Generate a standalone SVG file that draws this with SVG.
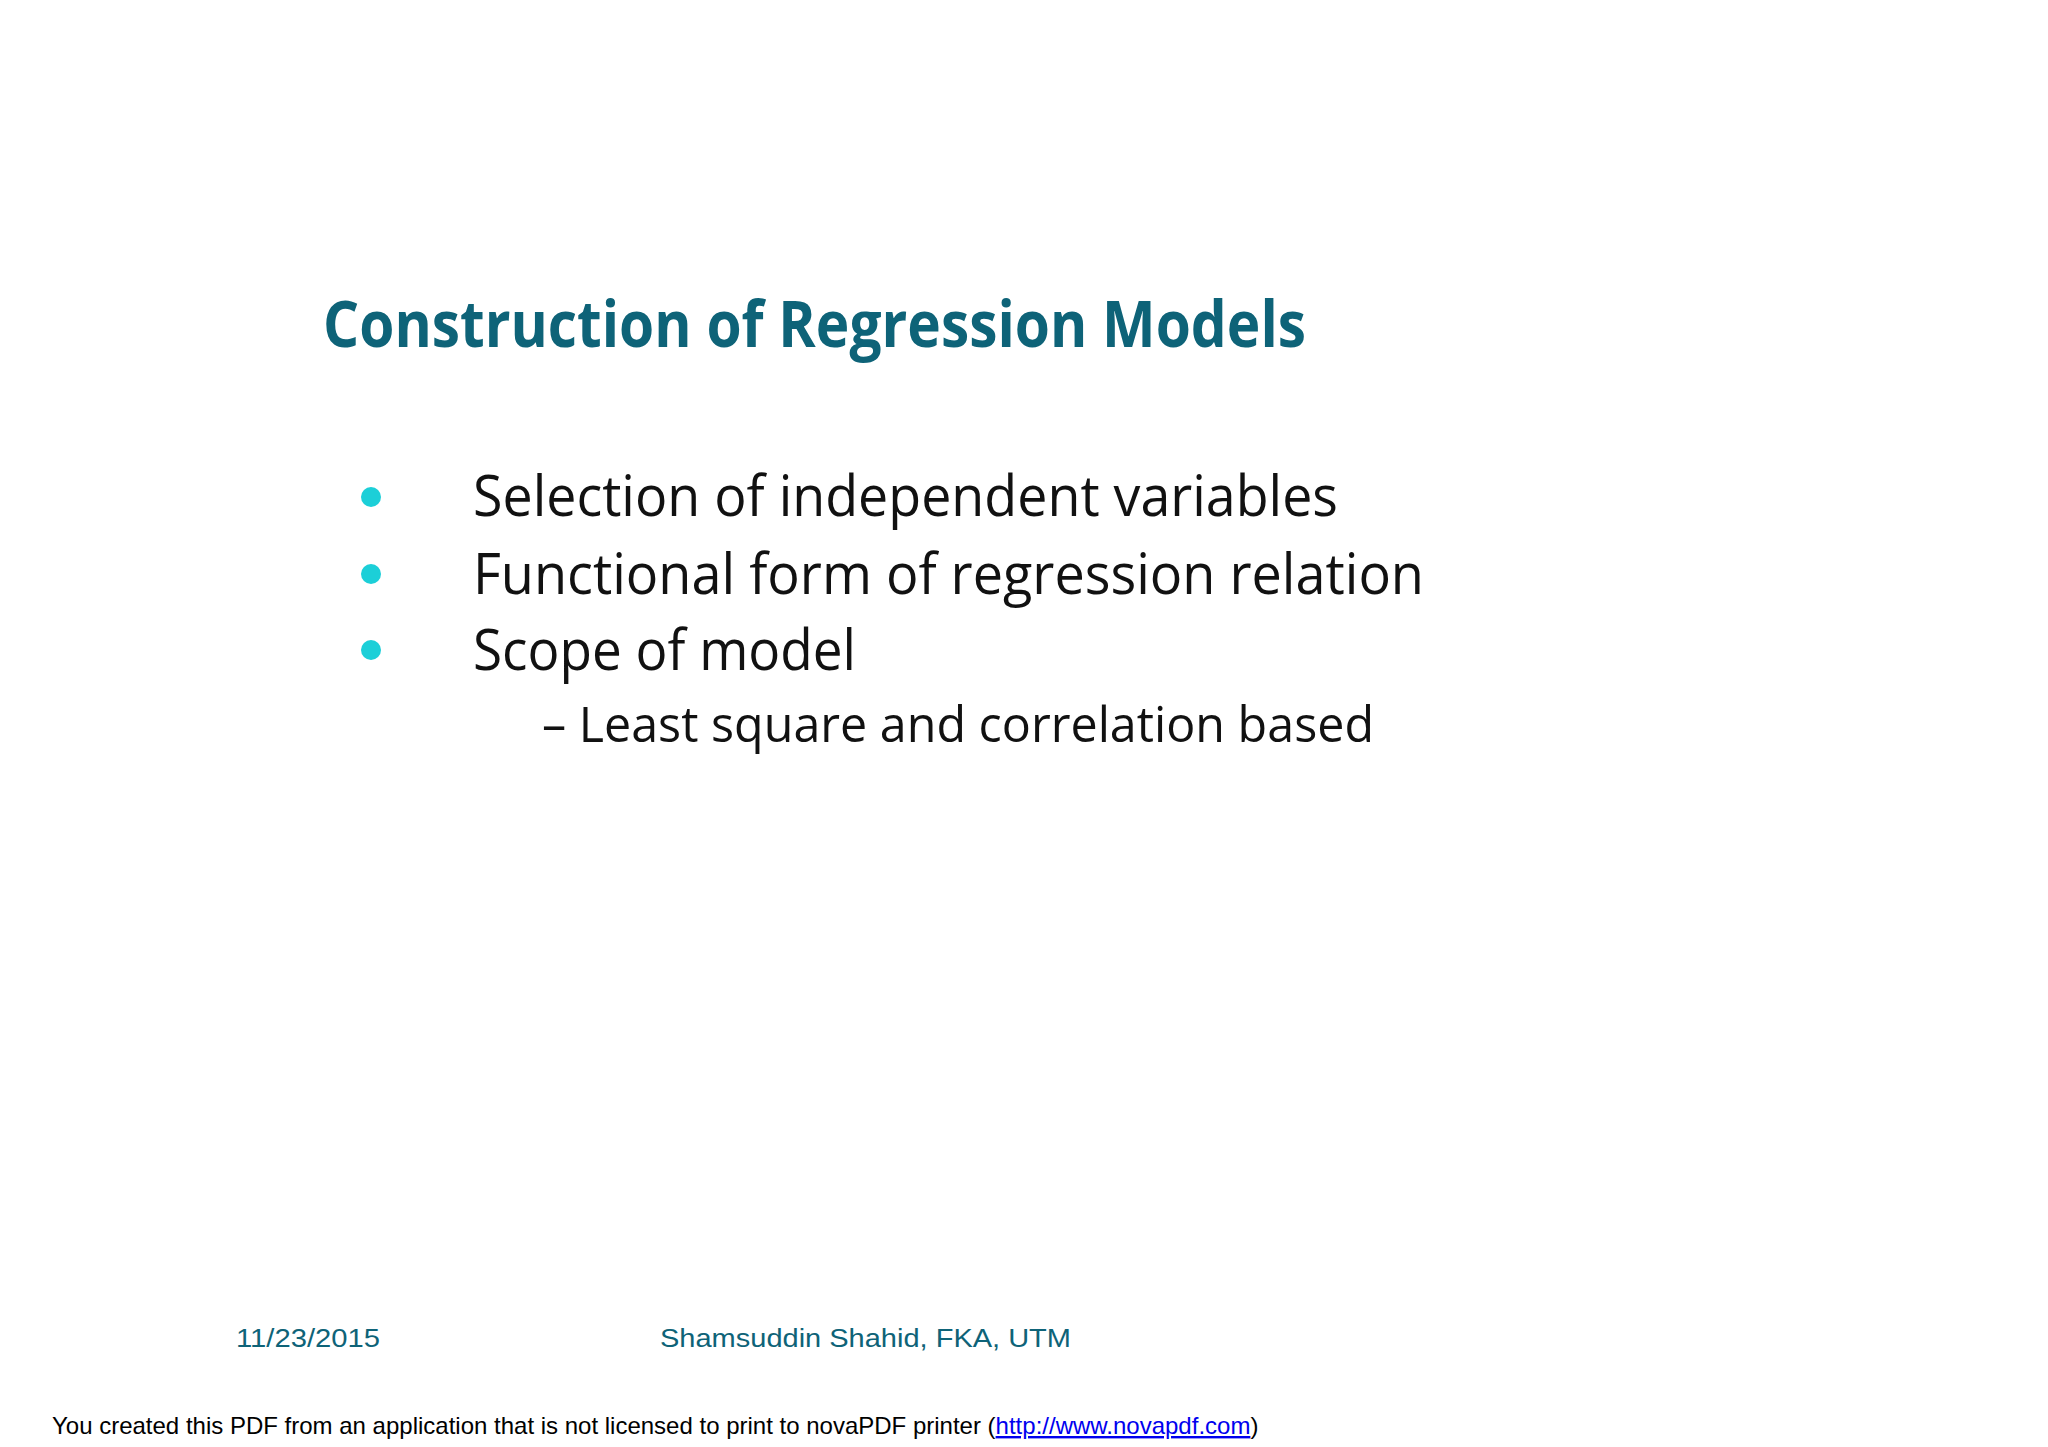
<svg xmlns="http://www.w3.org/2000/svg" width="2048" height="1447" viewBox="0 0 2048 1447">
<style>
.t{font-family:"Open Sans","Liberation Sans",sans-serif;fill:#0e6378;font-weight:bold}
.b{font-family:"Open Sans","Liberation Sans",sans-serif;fill:#111}
.f{font-family:"Liberation Sans",Arial,sans-serif;fill:#0e6378;font-size:26px}
.n{font-family:"Liberation Sans",Arial,sans-serif;fill:#000;font-size:24px}
.dot{fill:#1ccfd8}
</style>
<rect width="2048" height="1447" fill="#fff"/>
<g id="title"><text class="t" x="323" y="347" font-size="64" textLength="983" lengthAdjust="spacingAndGlyphs">Construction of Regression Models</text></g>
<g id="bullets">
<circle class="dot" cx="371" cy="497" r="10"/>
<circle class="dot" cx="371" cy="574" r="10"/>
<circle class="dot" cx="371" cy="650" r="10"/>
<text class="b" x="473" y="516" font-size="56" textLength="865" lengthAdjust="spacingAndGlyphs">Selection of independent variables</text>
<text class="b" x="473" y="594" font-size="56" textLength="951" lengthAdjust="spacingAndGlyphs">Functional form of regression relation</text>
<text class="b" x="473" y="670" font-size="56" textLength="383" lengthAdjust="spacingAndGlyphs">Scope of model</text>
<text class="b" x="542" y="742" font-size="50" textLength="832" lengthAdjust="spacingAndGlyphs">– Least square and correlation based</text>
</g>
<g id="footer">
<text class="f" x="236" y="1347" textLength="144" lengthAdjust="spacingAndGlyphs">11/23/2015</text>
<text class="f" x="660" y="1347" textLength="411" lengthAdjust="spacingAndGlyphs">Shamsuddin Shahid, FKA, UTM</text>
</g>
<g id="notice">
<text class="n" x="52" y="1434">You created this PDF from an application that is not licensed to print to novaPDF printer (<tspan fill="#0000ee" text-decoration="underline">http://www.novapdf.com</tspan>)</text>
</g>
</svg>
